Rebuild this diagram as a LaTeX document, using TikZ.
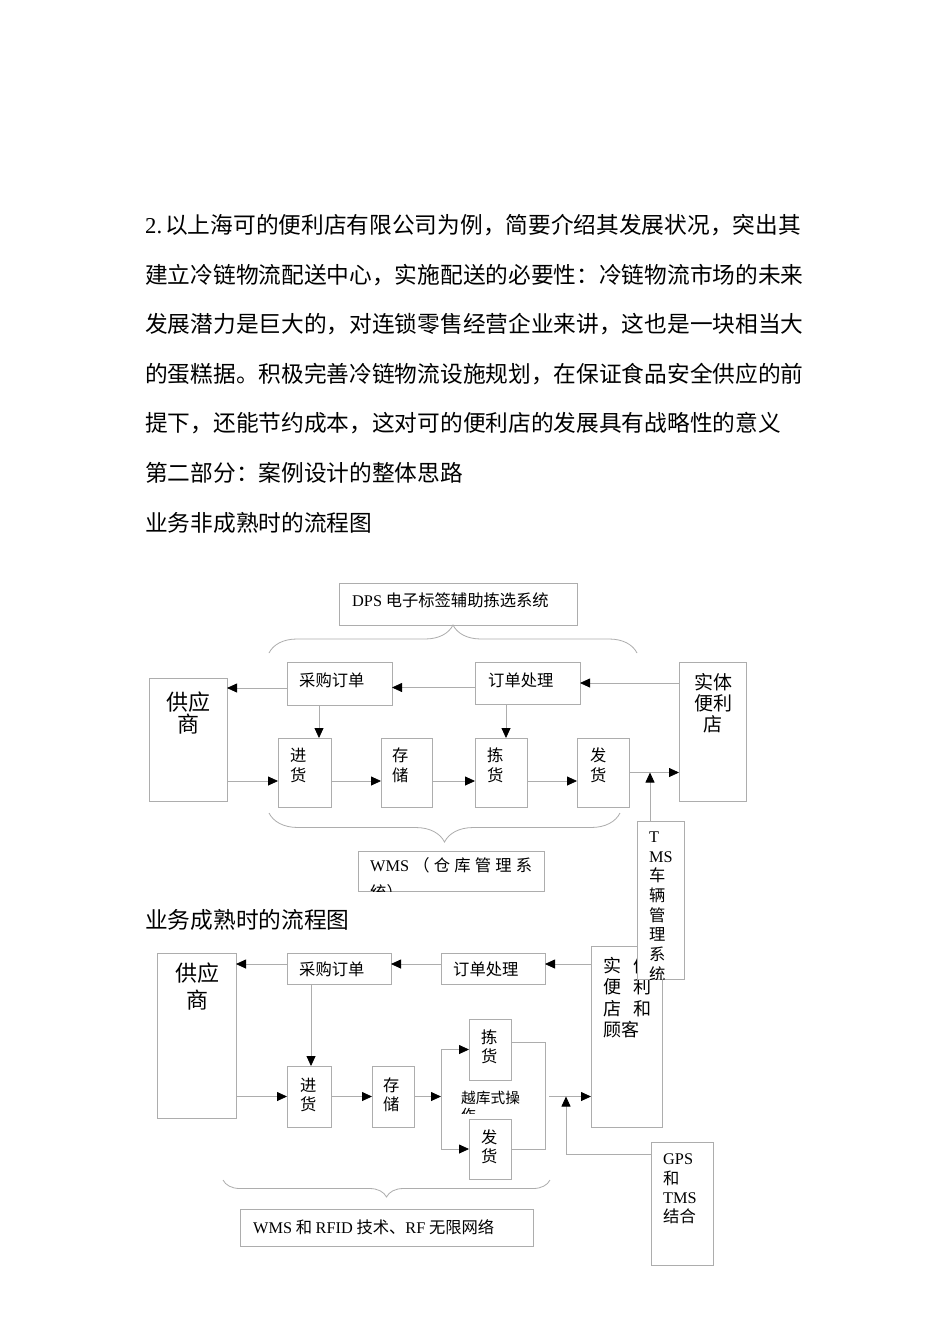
\documentclass[tikz,border=0pt]{standalone}
\usepackage{fontspec}
\setmainfont{Noto Sans CJK SC}
\newfontfamily\lat{Liberation Serif}
\usetikzlibrary{arrows.meta}
\usetikzlibrary{decorations.pathreplacing}
\definecolor{linegray}{gray}{0.68}
\tikzset{
  box/.style={draw=linegray, fill=white, line width=0.8pt, inner sep=0pt, outer sep=0pt},
  lbl/.style={inner sep=0pt, align=left, font=\fontsize{16.3}{19.4}\selectfont},
  body/.style={inner sep=0pt, anchor=west, font=\fontsize{22.7}{27}\selectfont},
  line/.style={draw=linegray, line width=0.8pt},
  arr/.style={line, ->, >={Triangle[length=10pt,width=9pt,color=black,fill=black]}},
  curly/.style={line, decorate, decoration={brace, amplitude=#1}},
}

\begin{document}
\begin{tikzpicture}[x=1pt, y=-1pt]
\fill[white] (0,0) rectangle (950,1344);
\useasboundingbox (0,0) rectangle (950,1344);

\foreach \t [count=\i from 0] in {{{\lat 2.}\hspace{3pt}以上海可的便利店有限公司为例，简要介绍其发展状况，突出其},
  {建立冷链物流配送中心，实施配送的必要性：冷链物流市场的未来},
  {发展潜力是巨大的，对连锁零售经营企业来讲，这也是一块相当大},
  {的蛋糕据。积极完善冷链物流设施规划，在保证食品安全供应的前},
  {提下，还能节约成本，这对可的便利店的发展具有战略性的意义},
  {第二部分：案例设计的整体思路},
  {业务非成熟时的流程图}}
  \node[body] (line\i) at (145,{225+49.6*\i}) {\t};
\node[body] (head2) at (145,920) {业务成熟时的流程图};

% upper chart
\node[box, minimum width=238, minimum height=42] (dps) at (458,604) {};
\node[box, minimum width=78, minimum height=123] (gys1) at (188,739.5) {};
\node[box, minimum width=105, minimum height=43] (cg1) at (339.5,683.5) {};
\node[box, minimum width=105, minimum height=42] (dd1) at (527.5,683) {};
\node[box, minimum width=67, minimum height=139] (st1) at (712.5,731.5) {};
\foreach \n/\x/\w in {jh1/304.5/53, cc1/406.5/51, jianh1/501/52, fh1/603/52}
  \node[box, minimum width=\w, minimum height=69] (\n) at (\x,772.5) {};
\node[box, minimum width=186, minimum height=40] (wms1) at (451,871) {};

\node[lbl, anchor=west] (t-dps) at (352,600) {{\lat DPS} 电子标签辅助拣选系统};
\node[lbl, anchor=west] (t-cg1) at (299,680) {采购订单};
\node[lbl, anchor=west] (t-dd1) at (488,680) {订单处理};
\node[lbl, align=center, anchor=north, font=\fontsize{22}{22}\selectfont] (t-gys1) at (188,692) {供应\\商};
\node[lbl, align=center, anchor=north, font=\fontsize{19}{21}\selectfont] (t-st1) at (713,673.5) {实体\\便利\\店};
\foreach \n/\x/\ca/\cb in {jh1/290/进/货, cc1/392/存/储, jianh1/487/拣/货, fh1/590/发/货}
  \node[lbl, anchor=north west, font=\fontsize{16.3}{20}\selectfont] (t-\n) at (\x,747.7) {\ca\\\cb};

\draw[curly=28pt] (269,653) -- (637,653);
\draw[curly=29pt] (620,813) -- (269,813);

\begin{scope}
\clip (wms1.north west) rectangle (wms1.south east);
\node[lbl, anchor=north west, font=\fontsize{16.3}{27}\selectfont] (t-wms1) at (370,857.7)
  {\makebox[162pt][s]{{\lat WMS}\hfil（\hfil 仓\hfil 库\hfil 管\hfil 理\hfil 系}\\统）};
\end{scope}

% lower chart
\node[box, minimum width=79, minimum height=165] (gys2) at (196.5,1035.5) {};
\node[box, minimum width=104, minimum height=31] (cg2) at (339,968.5) {};
\node[box, minimum width=104, minimum height=31] (dd2) at (493,968.5) {};
\node[box, minimum width=71, minimum height=181] (st2) at (626.5,1036.5) {};
\node[box, minimum width=44, minimum height=61] (jh2) at (309,1096.5) {};
\node[box, minimum width=42, minimum height=61] (cc2) at (393,1096.5) {};
\node[box, minimum width=42, minimum height=61] (jianh2) at (490,1049.5) {};
\node[box, minimum width=42, minimum height=60] (fh2) at (490,1149) {};
\node[box, minimum width=293, minimum height=37] (wms2) at (386.5,1227.5) {};
\node[box, minimum width=62, minimum height=123] (gps) at (682,1203.5) {};

\node[lbl, align=center, anchor=north, font=\fontsize{22}{27}\selectfont] (t-gys2) at (197,963) {供应\\商};
\node[lbl, anchor=west] (t-cg2) at (299,969) {采购订单};
\node[lbl, anchor=west] (t-dd2) at (453,969) {订单处理};
\node[lbl, anchor=north west, font=\fontsize{18}{21.3}\selectfont] (t-st2) at (603,957) {实\hspace{12pt}体\\便\hspace{12pt}利\\店\hspace{12pt}和\\顾客};
\foreach \n/\x/\y/\ca/\cb in {jh2/300/1077.7/进/货, cc2/383/1077.7/存/储, jianh2/481/1029.7/拣/货, fh2/481/1129.7/发/货}
  \node[lbl, anchor=north west, font=\fontsize{16.3}{19}\selectfont] (t-\n) at (\x,\y) {\ca\\\cb};
\begin{scope}
\clip (455,1080) rectangle (530,1113);
\node[lbl, anchor=north west, font=\fontsize{14.7}{17}\selectfont] (t-yk) at (461,1091.4) {越库式操\\作};
\end{scope}
\node[lbl, anchor=north west] (t-gps) at (663,1153.6) {{\lat GPS}\\和\\{\lat TMS}\\结合};
\node[lbl, anchor=west] (t-wms2) at (253,1227) {{\lat WMS} 和 {\lat RFID} 技术、{\lat RF} 无限网络};

\draw[curly=17pt] (550,1180) -- (223,1180);

% TMS box lies over both charts
\node[box, minimum width=47, minimum height=158] (tms) at (660.5,900) {};
\begin{scope}
\clip (tms.north west) rectangle (tms.south east);
\node[lbl, anchor=north west, font=\fontsize{16.3}{19.7}\selectfont] (t-tms) at (649,831.6) {{\lat T}\\{\lat MS}\\车\\辆\\管\\理\\系\\统};
\end{scope}

% upper connectors
\coordinate (a1) at ([yshift=-4.5pt]cg1.west);
\coordinate (a2) at ([yshift=-4.5pt]dd1.west);
\draw[arr] (a2) -- (a2 -| cg1.east);
\draw[arr] (a1) -- (a1 -| gys1.east);
\draw[arr] (dd1.east -| st1.west) -- (dd1.east);
\coordinate (a3) at ([xshift=-20.5pt]cg1.south);
\draw[arr] (a3) -- (a3 |- jh1.north);
\coordinate (a4) at ([xshift=5pt]jianh1.north);
\draw[arr] (a4 |- dd1.south) -- (a4);
\coordinate (a5) at ([yshift=-8.5pt]jh1.west);
\draw[arr] (a5 -| gys1.east) -- (a5);
\foreach \p/\q in {jh1/cc1, cc1/jianh1, jianh1/fh1}
  \draw[arr] ([yshift=-8.5pt]\p.east) -- ([yshift=-8.5pt]\q.west);
\draw[arr] (fh1.east) -- (fh1.east -| st1.west);
\coordinate (a6) at ([xshift=-10.5pt]tms.north);
\draw[arr] (a6) -- (a6 |- fh1.east);

% lower connectors
\coordinate (b1) at ([yshift=4.5pt]dd2.west);
\coordinate (b2) at ([yshift=4.5pt]cg2.west);
\draw[arr] (b1) -- (b1 -| cg2.east);
\draw[arr] (b2) -- (b2 -| gys2.east);
\draw[arr] (b1 -| st2.west) -- (b1 -| dd2.east);
\coordinate (b3) at ([xshift=2pt]jh2.north);
\draw[arr] (b3 |- cg2.south) -- (b3);
\draw[arr] (jh2.west -| gys2.east) -- (jh2.west);
\draw[arr] (jh2.east) -- (cc2.west);
\coordinate (xd) at ([xshift=-28pt]jianh2.west);
\draw[arr] (cc2.east) -- (cc2.east -| xd);
\draw[arr] (xd |- fh2.west) -- (xd) -- (jianh2.west);
\draw[arr] (xd |- fh2.west) -- (fh2.west);
\coordinate (xr) at ([xshift=34pt]jianh2.east);
\draw[line] ([yshift=7pt]jianh2.east) -| (xr |- fh2.east) -- (fh2.east);
\path (xr |- cc2.east) ++(4,0) coordinate (xo);
\draw[arr] (xo) -- (xo -| st2.west);
\coordinate (g1) at ([yshift=49.5pt]gps.west);
\draw[arr] (g1) -| ([xshift=17pt]xo);
\end{tikzpicture}
\end{document}
